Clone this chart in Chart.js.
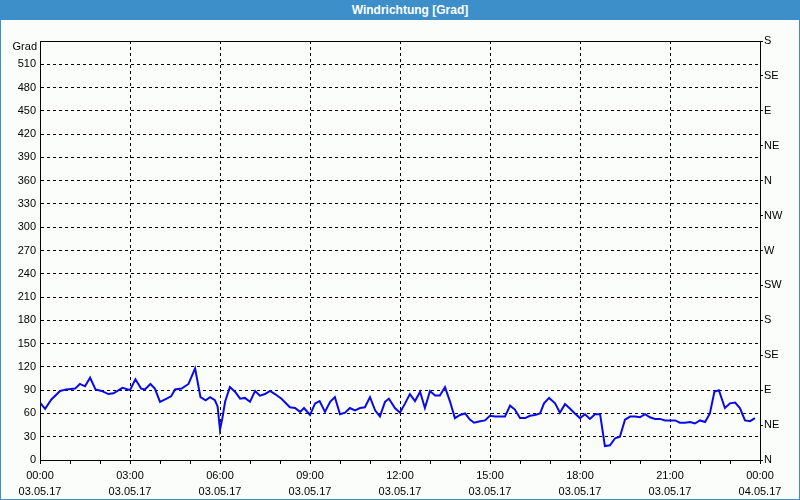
<!DOCTYPE html>
<html>
<head>
<meta charset="utf-8">
<script src="https://cdn.jsdelivr.net/npm/chart.js@4/dist/chart.umd.min.js"></script>
<style>
  html, body { margin: 0; padding: 0; }
  body { width: 800px; height: 500px; position: relative; background: #fbfdfb; overflow: hidden; font-family: "Liberation Sans", Arial, sans-serif; }
  #bar { position: absolute; left: 0; top: 0; width: 800px; height: 20px; background: #3c8fc8; color: #fff; font-weight: bold; font-size: 12px; line-height: 20px; text-align: center; box-sizing: border-box; padding-left: 20px; }
  #frame { position: absolute; left: 0; top: 0; width: 800px; height: 500px; box-sizing: border-box; border: 1px solid #3c8fc8; pointer-events: none; }
  #wrap { position: absolute; left: 0; top: 20px; width: 800px; height: 480px; }
</style>
</head>
<body>
<div id="bar">Windrichtung [Grad]</div>
<div id="wrap"><canvas id="c" width="800" height="480"></canvas></div>
<div id="frame"></div>
<script>
const chartTitle = "Windrichtung [Grad]";
const unitLabel = "Grad";
const timeLabels = ["00:00","03:00","06:00","09:00","12:00","15:00","18:00","21:00","00:00"];
const dateLabels = ["03.05.17","03.05.17","03.05.17","03.05.17","03.05.17","03.05.17","03.05.17","03.05.17","04.05.17"];
const compassLabels = ["N","NE","E","SE","S","SW","W","NW","N","NE","E","SE","S"];

const hours = [0.0,0.17,0.38,0.67,0.88,1.17,1.33,1.5,1.67,1.85,2.05,2.28,2.45,2.75,3.0,3.18,3.37,3.5,3.68,3.83,
  4.0,4.22,4.37,4.5,4.72,4.95,5.17,5.35,5.52,5.67,5.83,5.92,6.0,6.08,6.17,6.33,6.5,6.67,6.83,7.0,
  7.17,7.33,7.5,7.67,7.83,8.05,8.33,8.5,8.67,8.8,9.0,9.17,9.32,9.5,9.67,9.83,10.0,10.17,10.33,10.5,
  10.67,10.83,11.0,11.17,11.33,11.5,11.63,11.83,12.0,12.17,12.33,12.5,12.67,12.83,13.0,13.17,13.33,13.5,13.67,13.83,
  14.0,14.17,14.33,14.47,14.67,14.83,15.0,15.17,15.33,15.5,15.67,15.83,16.0,16.17,16.33,16.5,16.67,16.8,16.97,17.17,
  17.33,17.5,17.67,17.83,18.0,18.17,18.33,18.5,18.67,18.83,19.0,19.17,19.33,19.5,19.67,19.83,20.0,20.17,20.33,20.5,
  20.67,20.83,21.0,21.17,21.33,21.5,21.67,21.83,22.0,22.17,22.33,22.48,22.63,22.83,23.0,23.17,23.33,23.5,23.67,23.83];
const directions = [74,66,78,89,91,92,98,95,106,91,89,85,86,93,90,104,92,91,98,92,
  75,79,82,91,92,98,118,81,77,81,77,69,39,54,75,94,88,79,80,75,
  89,83,85,89,85,79,68,67,62,67,58,73,76,62,75,81,59,61,67,64,
  67,68,81,64,56,75,79,67,61,73,85,76,88,67,89,83,83,94,75,54,
  58,60,52,48,50,51,57,56,56,56,70,65,54,54,57,58,60,73,80,73,
  61,72,66,60,54,59,53,59,59,18,19,28,30,52,56,56,55,59,55,53,
  53,51,51,51,48,48,49,47,51,49,60,88,90,67,73,74,67,51,50,54];

const points = hours.map((h, i) => ({ x: h, y: directions[i] }));

const framePlugin = {
  id: 'frame',
  afterDraw(chart) {
    const { ctx, chartArea: a } = chart;
    ctx.save();
    ctx.strokeStyle = '#000';
    ctx.lineWidth = 1;
    ctx.setLineDash([]);
    ctx.strokeRect(Math.round(a.left) + 0.5, Math.round(a.top) + 0.5, Math.round(a.right - a.left), Math.round(a.bottom - a.top));
    ctx.fillStyle = '#000';
    ctx.font = '11px "Liberation Sans", Arial, sans-serif';
    ctx.textAlign = 'right';
    ctx.textBaseline = 'middle';
    ctx.fillText(unitLabel, a.left - 3, a.top + 6);
    ctx.restore();
  }
};

const font = { family: '"Liberation Sans", Arial, sans-serif', size: 11 };

new Chart(document.getElementById('c'), {
  type: 'line',
  data: {
    datasets: [{
      label: chartTitle,
      data: points,
      borderColor: '#0a0ae6',
      borderWidth: 2,
      pointRadius: 0,
      tension: 0,
      fill: false
    }]
  },
  options: {
    responsive: false,
    animation: false,
    layout: { padding: { top: 21, left: 0, right: 0, bottom: 0 } },
    plugins: { legend: { display: false }, title: { display: false }, tooltip: { enabled: false } },
    scales: {
      x: {
        type: 'linear',
        min: 0, max: 24,
        afterFit(s) { s.height = 40; },
        border: { display: true, color: '#000', width: 1, dash: [3, 3] },
        grid: {
          drawOnChartArea: true,
          drawTicks: true,
          tickLength: 4,
          tickColor: '#000',
          tickBorderDash: [],
          lineWidth: 1,
          color: (c) => (c.tick && c.tick.value % 3 === 0 && c.tick.value > 0 && c.tick.value < 24) ? '#000' : 'rgba(0,0,0,0)'
        },
        ticks: {
          stepSize: 1,
          autoSkip: false,
          maxRotation: 0,
          color: '#000',
          font: { ...font, lineHeight: 1.45 },
          padding: 4,
          callback: (v) => (v % 3 === 0) ? [timeLabels[v / 3], dateLabels[v / 3]] : ''
        }
      },
      y: {
        position: 'left',
        min: 0, max: 540,
        afterFit(s) { s.width = 40; },
        border: { display: true, color: '#000', width: 1, dash: [3, 3] },
        grid: {
          drawTicks: false,
          tickLength: 0,
          color: (c) => (c.tick && c.tick.value > 0 && c.tick.value < 540) ? '#000' : 'rgba(0,0,0,0)'
        },
        ticks: {
          stepSize: 30,
          color: '#000',
          font,
          padding: 4,
          callback: (v) => v === 540 ? '' : String(v)
        }
      },
      y2: {
        position: 'right',
        min: 0, max: 540,
        afterFit(s) { s.width = 40; },
        border: { display: true, color: '#000', width: 1 },
        grid: { drawOnChartArea: false, drawTicks: true, tickLength: 3, tickColor: '#000' },
        ticks: {
          stepSize: 45,
          color: '#000',
          font,
          padding: 1,
          callback: (v) => compassLabels[Math.round(v / 45)]
        }
      }
    }
  },
  plugins: [framePlugin]
});
</script>
</body>
</html>
